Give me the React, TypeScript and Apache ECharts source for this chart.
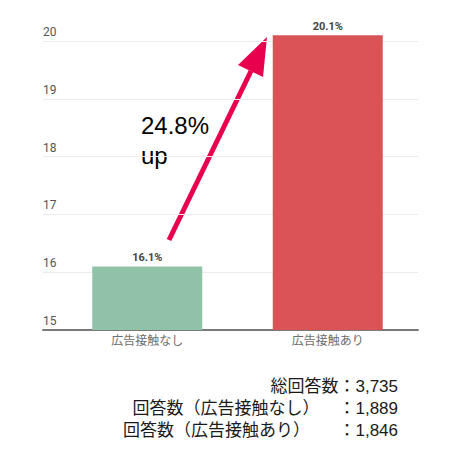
import React, { useEffect, useRef } from 'react';
import * as echarts from 'echarts';

const categories = ['広告接触なし', '広告接触あり'];
const rates = [16.1, 20.1];
const barColors = ['#8fc2a6', '#da5356'];
const yTicks = { min: 15, max: 20, interval: 1 };
const upLabel = ['24.8%', 'up'];
const countLines = [
  '総回答数：3,735',
  '回答数（広告接触なし）    ：1,889',
  '回答数（広告接触あり）      ：1,846',
];

const App: React.FC = () => {
  const chartRef = useRef<HTMLDivElement>(null);

  useEffect(() => {
    document.body.style.margin = '0';
    const chart = echarts.init(chartRef.current!, null, { renderer: 'svg' });

    const axisFont = 'Roboto, "Noto Sans CJK JP", sans-serif';
    const textFont = '"Liberation Sans", "Noto Sans CJK JP", sans-serif';
    const arrowColor = '#e8004f';

    const options = {
      animation: false,
      backgroundColor: '#fff',
      grid: [
        // gridlines + y labels
        { left: 43, right: 41, top: 41, bottom: 127 },
        // bars: same scale (58px per unit), extra half unit on top so 20.1 is not clipped
        { left: 57, right: 41, top: 12, bottom: 127 },
      ],
      xAxis: [
        {
          type: 'category',
          gridIndex: 0,
          data: categories,
          axisLine: { show: true, lineStyle: { color: '#7a7a7a', width: 2 } },
          axisTick: { show: false },
          axisLabel: { show: false },
        },
        {
          type: 'category',
          gridIndex: 1,
          data: categories,
          axisLine: { show: false },
          axisTick: { show: false },
          axisLabel: {
            color: '#6e6e6e',
            fontSize: 12,
            fontFamily: axisFont,
            margin: 5,
          },
        },
      ],
      yAxis: [
        {
          type: 'value',
          gridIndex: 0,
          min: yTicks.min,
          max: yTicks.max,
          interval: yTicks.interval,
          axisLine: { show: false },
          axisTick: { show: false },
          splitLine: { lineStyle: { color: '#ebebeb', width: 1 } },
          axisLabel: {
            inside: true,
            align: 'left',
            verticalAlign: 'bottom',
            margin: 0,
            padding: [0, 0, 3, 0],
            color: '#555',
            fontSize: 12,
            fontFamily: axisFont,
          },
        },
        {
          type: 'value',
          gridIndex: 1,
          min: yTicks.min,
          max: yTicks.max + 0.5,
          show: false,
          splitLine: { show: false },
        },
      ],
      series: [
        {
          type: 'bar',
          xAxisIndex: 1,
          yAxisIndex: 1,
          barWidth: 110,
          data: rates.map((v, i) => ({ value: v, itemStyle: { color: barColors[i] } })),
          label: {
            show: true,
            position: 'top',
            distance: 3,
            formatter: (p: any) => `${p.value}%`,
            color: '#444',
            fontSize: 11,
            fontWeight: 'bold',
            fontFamily: axisFont,
          },
        },
      ],
      graphic: [
        {
          type: 'line',
          shape: { x1: 169, y1: 240, x2: 251, y2: 71 },
          style: { stroke: arrowColor, lineWidth: 5 },
        },
        {
          type: 'polygon',
          shape: { points: [[267, 37], [238, 65], [263, 77]] },
          style: { fill: arrowColor },
        },
        ...upLabel.map((t, i) => ({
          type: 'text',
          x: 141,
          y: 125 + i * 30,
          style: {
            text: t,
            fontSize: 24,
            fontFamily: textFont,
            fill: '#000',
            verticalAlign: 'middle',
            align: 'left',
          },
        })),
        ...countLines.map((t, i) => ({
          type: 'text',
          x: 398,
          y: 386 + i * 22,
          style: {
            text: t,
            fontSize: 17,
            fontFamily: textFont,
            fill: '#1a1a1a',
            verticalAlign: 'middle',
            align: 'right',
          },
        })),
      ],
    };

    chart.setOption(options);

    return () => {
      chart.dispose();
    };
  }, []);

  return <div ref={chartRef} style={{ width: '459px', height: '457px' }} />;
};

export default App;
